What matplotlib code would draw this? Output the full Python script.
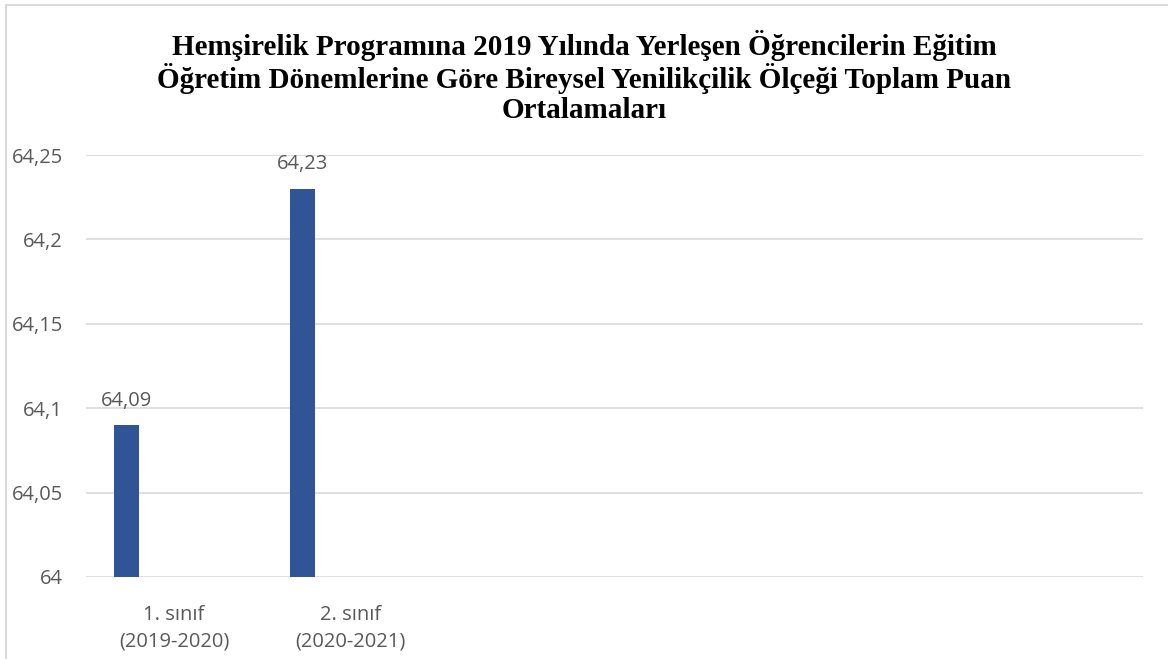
import matplotlib
matplotlib.use('Agg')
import matplotlib.pyplot as plt
from matplotlib.patches import Rectangle

# Data
categories = ['1. sınıf\n(2019-2020)', '2. sınıf\n(2020-2021)']
values = [64.09, 64.23]
value_labels = ['64,09', '64,23']
y_ticks = [64, 64.05, 64.1, 64.15, 64.2, 64.25]
y_tick_labels = ['64', '64,05', '64,1', '64,15', '64,2', '64,25']

title = ('Hemşirelik Programına 2019 Yılında Yerleşen Öğrencilerin Eğitim\n'
         'Öğretim Dönemlerine Göre Bireysel Yenilikçilik Ölçeği Toplam Puan\n'
         'Ortalamaları')

bar_color = '#2F5597'
text_color = '#595959'
grid_color = '#D9D9D9'

fig = plt.figure(figsize=(11.68, 6.59), dpi=100)
ax = fig.add_axes([86/1168, 1 - 577/659, (1143 - 86)/1168, (577 - 155)/659])

# frame around the chart (cut at right / bottom in the reference)
fig.patches.append(Rectangle((6/1168, -0.1), 1.2, 1 - 5/659 + 0.1, transform=fig.transFigure,
                             fill=False, edgecolor='#D9D9D9', linewidth=1.5))

x = list(range(len(categories)))
offset = -48/176
bars = ax.bar([i + offset for i in x], [v - 64 for v in values], bottom=64,
              width=25/176, color=bar_color, zorder=3)

for i, v, lab in zip(x, values, value_labels):
    ax.text(i + offset, v + 0.0085, lab, ha='center', va='bottom',
            fontsize=14.5, color=text_color, family='Open Sans')

ax.set_xlim(-0.5, 5.5)
ax.set_ylim(64, 64.25)
ax.set_yticks(y_ticks)
ax.set_yticklabels(y_tick_labels)
ax.set_xticks(x)
ax.set_xticklabels(categories)

for lbl in ax.get_yticklabels() + ax.get_xticklabels():
    lbl.set_fontsize(14.5)
    lbl.set_color(text_color)
    lbl.set_family('Open Sans')
for lbl in ax.get_xticklabels():
    lbl.set_linespacing(1.45)

ax.tick_params(axis='both', length=0)
ax.tick_params(axis='y', pad=16.5)
ax.tick_params(axis='x', pad=20)
ax.grid(axis='y', color=grid_color, linewidth=1.2, zorder=0)
for s in ax.spines.values():
    s.set_visible(False)

fig.text(0.5, 1 - 30/659, title, ha='center', va='top', fontsize=21, fontweight='bold',
         family='Liberation Serif', linespacing=1.1)

fig.savefig('out.png', dpi=100)
